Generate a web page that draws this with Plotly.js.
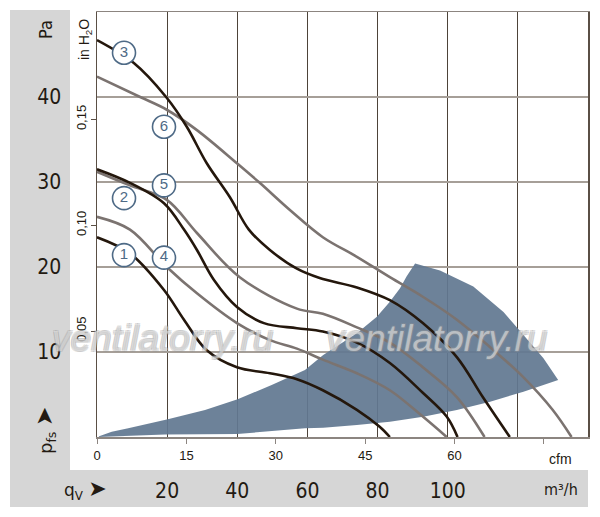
<!DOCTYPE html>
<html>
<head>
<meta charset="utf-8">
<script src="https://cdn.plot.ly/plotly-3.0.1.min.js"></script>
<style>html,body{margin:0;padding:0;background:#fff;}#chart{width:600px;height:517px;}</style>
</head>
<body>
<div id="chart"></div>
<script>
// ---- data (x in m³/h, y in Pa) ----
const curve1X = [0, 9.4, 19.1, 24.8, 31.3, 39.9, 49.3, 57, 64.4, 74.1, 80.6, 83.5];
const curve1Y = [23.5, 21.6, 17.3, 13.8, 10.2, 8.2, 7.5, 6.8, 5.5, 3.2, 1.2, 0];

const curve2X = [0, 9.4, 19.1, 24.8, 28.5, 33.3, 39.9, 47.6, 57, 64.4, 74.1, 83.5, 92.9, 99.7, 102.8];
const curve2Y = [31.5, 29.9, 27.5, 24.4, 22.0, 18.5, 15.3, 13.4, 12.8, 12.4, 11.1, 8.7, 5.2, 2.4, 0];

const curve3X = [0, 10.5, 19.7, 25.6, 31.3, 37.9, 43.3, 49.3, 57, 63.5, 74.1, 83.5, 92.9, 102.6, 110, 117.7];
const curve3Y = [46.7, 44.0, 40.0, 36.5, 32.2, 28.2, 24.4, 22.0, 19.8, 18.7, 17.6, 16.1, 13.4, 9.4, 4.7, 0];

const curve4X = [0, 9.4, 19.9, 28.5, 39.9, 49.3, 57, 64.4, 74.1, 83.5, 92.9, 99.7];
const curve4Y = [25.9, 24.4, 20.0, 16.9, 13.4, 11.4, 10.4, 9.1, 7.5, 5.5, 2.4, 0];

const curve5X = [0, 9.4, 19.9, 28.5, 40.7, 57, 64.4, 74.1, 83.5, 92.9, 102.6, 110.5];
const curve5Y = [31.2, 29.6, 27.9, 24.0, 18.8, 15.1, 14.5, 12.9, 11.1, 8.2, 4.7, 0];

const curve6X = [0, 12.3, 19.9, 28.5, 39.9, 46.4, 55, 64.4, 74.1, 83.5, 92.9, 102.6, 112, 121.4, 129.9, 135.3];
const curve6Y = [42.4, 40.0, 38.5, 36.1, 32.2, 29.9, 26.7, 23.5, 21.2, 18.8, 16.5, 13.8, 10.6, 7.1, 3.2, 0];

// operating region outline: upper edge, outer arc, lower edge back to origin
const regionX = [0, 4.2, 8.9, 20.2, 30.8, 40.1, 49.8, 59.3, 64.5, 74.1, 79.8, 83.5, 86.4, 88.3, 90.7,
                 97.8, 107.3, 115.9, 121.6, 127.3, 131.5,
                 121.6, 112.1, 102.6, 93.0, 83.5, 74.1, 64.5, 59.3, 40.0, 19.4, 0];
const regionY = [0, 0.62, 1.02, 2.08, 3.18, 4.44, 6.12, 7.88, 9.65, 12.2, 14.15, 15.9, 17.5, 18.9, 20.4,
                 19.6, 17.7, 14.7, 12.0, 9.26, 6.7,
                 5.33, 4.15, 3.18, 2.39, 1.8, 1.41, 1.09, 1.02, 0.35, 0.3, 0];

// curve labels
const labelText = ['1', '2', '3', '4', '5', '6'];
const labelX = [7.7, 7.7, 7.7, 19.1, 19.1, 19.1];
const labelY = [21.4, 28.1, 45.2, 21.1, 29.6, 36.5];

// tick labels
const paTicks = [10, 20, 30, 40];
const m3hTicks = [20, 40, 60, 80, 100, 120];
const m3hText = ['20', '40', '60', '80', '100', ''];
const cfmTicks = [0, 15, 30, 45, 60, 75];
const cfmText = ['0', '15', '30', '45', '60', ''];
const inH2OTicks = [0.05, 0.10, 0.15];
const inH2OText = ['0,05', '0,10', '0,15'];

const PA_MAX = 50, M3H_MAX = 140;
const M3H_PER_CFM = 1.699, PA_PER_INH2O = 249.089;

const BLACK = '#24170c', GRAY = '#7b7370', BLUE = '#4e6a86';
const cond = '"Liberation Sans Narrow", "DejaVu Sans Condensed", Arial, sans-serif';

function curve(x, y, color) {
  return {x: x, y: y, type: 'scatter', mode: 'lines',
          line: {color: color, width: 2.6, shape: 'spline', smoothing: 1},
          hoverinfo: 'skip', showlegend: false};
}

const traces = [
  {x: regionX, y: regionY, type: 'scatter', mode: 'lines', fill: 'toself',
   fillcolor: 'rgba(98,120,145,0.93)', line: {width: 0},
   hoverinfo: 'skip', showlegend: false},
  curve(curve6X, curve6Y, GRAY),
  curve(curve5X, curve5Y, GRAY),
  curve(curve4X, curve4Y, GRAY),
  curve(curve3X, curve3Y, BLACK),
  curve(curve2X, curve2Y, BLACK),
  curve(curve1X, curve1Y, BLACK),
  {x: labelX, y: labelY, text: labelText, type: 'scatter', mode: 'markers+text',
   textposition: 'middle center',
   textfont: {family: 'Arial, "Liberation Sans", sans-serif', size: 15, color: BLUE},
   marker: {size: 23, color: '#ffffff', line: {color: BLUE, width: 1.6}},
   hoverinfo: 'skip', showlegend: false},
  {x: [0], y: [-10], xaxis: 'x2', yaxis: 'y', type: 'scatter', mode: 'markers', marker: {opacity: 0}, showlegend: false, hoverinfo: 'skip'},
  {x: [-10], y: [0], xaxis: 'x', yaxis: 'y2', type: 'scatter', mode: 'markers', marker: {opacity: 0}, showlegend: false, hoverinfo: 'skip'}
];

const wmFont = {family: '"Liberation Sans", Arial, sans-serif', size: 37, style: 'italic',
  color: 'rgba(235,235,235,0.55)',
  shadow: '-1px -1px 0 rgba(150,150,150,0.55), 1px -1px 0 rgba(150,150,150,0.55), -1px 1px 0 rgba(150,150,150,0.55), 1px 1px 0 rgba(150,150,150,0.55)'};

function note(x, y, text, font, angle) {
  return {xref: 'paper', yref: 'paper', x: x, y: y, text: text, textangle: angle || 0,
          showarrow: false, xanchor: 'center', yanchor: 'middle', font: font};
}

const layout = {
  width: 600, height: 517,
  margin: {l: 97, r: 12, t: 12, b: 80},
  paper_bgcolor: '#ffffff', plot_bgcolor: 'rgba(0,0,0,0)',
  showlegend: false,
  xaxis: {
    range: [0, M3H_MAX], tickmode: 'array', tickvals: m3hTicks, ticktext: m3hText,
    showgrid: true, gridcolor: '#4d4339', gridwidth: 1,
    zeroline: false, showline: true, linecolor: '#8c8580', linewidth: 1.5, mirror: true,
    ticks: '', ticklabelstandoff: 34,
    tickfont: {family: cond, size: 21, color: '#231a12'}
  },
  xaxis2: {
    overlaying: 'x', anchor: 'y', side: 'bottom',
    range: [0, M3H_MAX / M3H_PER_CFM], tickmode: 'array', tickvals: cfmTicks, ticktext: cfmText,
    showgrid: false, zeroline: false, showline: false,
    ticks: 'outside', ticklen: 6, tickwidth: 1, tickcolor: '#8c8580',
    tickfont: {family: '"Liberation Sans", Arial, sans-serif', size: 13, color: '#231a12'}
  },
  yaxis: {
    range: [0, PA_MAX], tickmode: 'array', tickvals: paTicks,
    showgrid: true, gridcolor: '#a69f98', gridwidth: 2,
    zeroline: false, showline: true, linecolor: '#5a4f45', linewidth: 1.5, mirror: true,
    ticks: '', ticklabelstandoff: 30,
    tickfont: {family: cond, size: 21, color: '#231a12'}
  },
  yaxis2: {
    overlaying: 'y', anchor: 'x', side: 'left',
    range: [0, PA_MAX / PA_PER_INH2O], tickmode: 'array', tickvals: inH2OTicks, ticktext: inH2OText,
    showgrid: false, zeroline: false, showline: false,
    ticks: 'outside', ticklen: 5, tickwidth: 1, tickcolor: '#5a4f45', tickangle: -90,
    tickfont: {family: '"Liberation Sans", Arial, sans-serif', size: 13, color: '#231a12'}
  },
  shapes: [
    {type: 'rect', xref: 'paper', yref: 'paper', x0: -0.1772, x1: -0.055, y0: -0.1647, y1: 1.0047,
     fillcolor: '#d6d6d6', line: {width: 0}, layer: 'below'},
    {type: 'rect', xref: 'paper', yref: 'paper', x0: -0.1772, x1: 1.0, y0: -0.1647, y1: -0.0776,
     fillcolor: '#d6d6d6', line: {width: 0}, layer: 'below'}
  ],
  annotations: [
    note(-0.1059, 0.9576, 'Pa', {family: cond, size: 18, color: '#231a12'}, -90),
    note(-0.1059, 0.0140, 'p<sub>fs</sub> <span style="font-size:23px">➤</span>', {family: '"DejaVu Sans", Arial, sans-serif', size: 18, color: '#231a12'}, -90),
    note(-0.0244, -0.1247, 'q<sub>V</sub> <span style="font-size:22px">➤</span>', {family: '"DejaVu Sans", Arial, sans-serif', size: 17, color: '#231a12'}),
    note(0.945, -0.1247, 'm³/h', {family: cond, size: 16, color: '#231a12'}),
    note(0.943, -0.0518, 'cfm', {family: '"Liberation Sans", Arial, sans-serif', size: 14, color: '#231a12'}),
    note(-0.0244, 0.934, 'in H<sub>2</sub>O', {family: '"Liberation Sans", Arial, sans-serif', size: 14, color: '#231a12'}, -90),
    {xref: 'x', yref: 'y', x: 18.8, y: 11.6, text: 'ventilatorry.ru', showarrow: false,
     xanchor: 'center', yanchor: 'middle', font: wmFont},
    {xref: 'x', yref: 'y', x: 96.9, y: 11.6, text: 'ventilatorry.ru', showarrow: false,
     xanchor: 'center', yanchor: 'middle', font: wmFont}
  ]
};

Plotly.newPlot('chart', traces, layout, {staticPlot: true, displayModeBar: false});
</script>
</body>
</html>
